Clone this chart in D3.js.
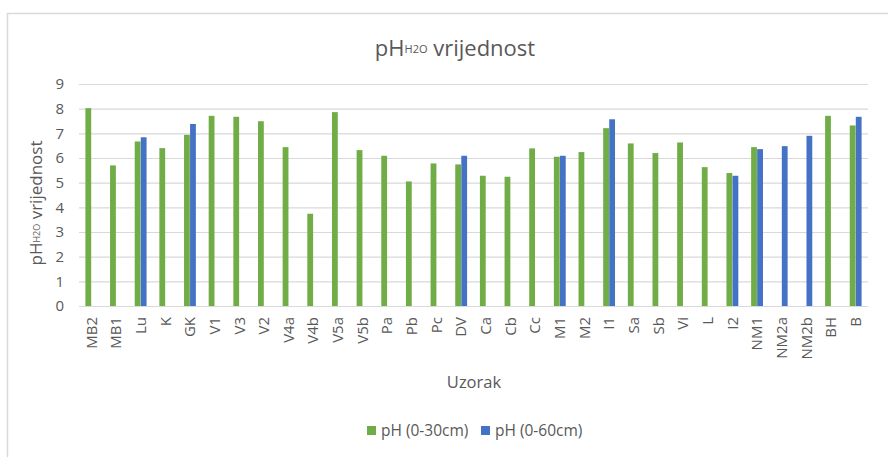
<!DOCTYPE html>
<html>
<head>
<meta charset="utf-8">
<script src="https://cdn.jsdelivr.net/npm/d3@7"></script>
<style>
  body { margin: 0; background: #fff; }
  svg text { font-family: "Segoe UI", "Open Sans", sans-serif; fill: #595959; }
</style>
</head>
<body>
<div id="chart"></div>
<script>
var samples = ["MB2", "MB1", "Lu", "K", "GK", "V1", "V3", "V2", "V4a", "V4b", "V5a", "V5b", "Pa", "Pb", "Pc", "DV",
               "Ca", "Cb", "Cc", "M1", "M2", "I1", "Sa", "Sb", "Vi", "L", "I2", "NM1", "NM2a", "NM2b", "BH", "B"];
var ph30 = [8.02, 5.70, 6.67, 6.40, 6.94, 7.71, 7.67, 7.49, 6.44, 3.74, 7.86, 6.32, 6.09, 5.05, 5.78, 5.74,
            5.28, 5.24, 6.39, 6.05, 6.24, 7.21, 6.59, 6.20, 6.63, 5.63, 5.39, 6.44, null, null, 7.71, 7.32];
var ph60 = [null, null, 6.84, null, 7.38, null, null, null, null, null, null, null, null, null, null, 6.09,
            null, null, null, 6.09, null, 7.57, null, null, null, null, 5.28, 6.36, 6.48, 6.90, null, 7.67];
var seriesNames = ["pH (0-30cm)", "pH (0-60cm)"];
var yTicks = [0, 1, 2, 3, 4, 5, 6, 7, 8, 9];

var width = 888,
    height = 457,
    color = d3.scaleOrdinal(seriesNames, ["#70ad47", "#4472c4"]);

var rows = samples.map((s, i) => ({name: s, values: [ph30[i], ph60[i]]}));

var svg = d3.select("#chart")
            .append("svg")
            .attr("width", width)
            .attr("height", height);

// frame of the chart area (only top and left edge visible)
svg.append("rect")
   .attr("x", 7.5)
   .attr("y", 13.5)
   .attr("width", 1000)
   .attr("height", 1000)
   .attr("fill", "none")
   .attr("stroke", "#d9d9d9")
   .attr("stroke-width", 1.5);

var x0 = d3.scaleBand()
           .domain(samples)
           .range([79, 868])
           .paddingInner(0.5)
           .paddingOuter(0.25);

var x1 = d3.scaleBand()
           .domain([0, 1])
           .range([0, x0.bandwidth()])
           .padding(0.04);

var y = d3.scaleLinear()
          .domain([0, 9])
          .range([306, 84]);

// gridlines
svg.append("g")
   .attr("transform", "translate(79,0)")
   .call(d3.axisLeft(y).tickValues(yTicks).tickSize(-(868 - 79)).tickFormat(""))
   .call(g => g.select(".domain").remove())
   .call(g => g.selectAll("line").attr("stroke", "#d9d9d9").attr("stroke-width", 1.2));

// y tick labels
svg.append("g")
   .attr("transform", "translate(70,0)")
   .call(d3.axisLeft(y).tickValues(yTicks).tickSize(0).tickPadding(6))
   .call(g => g.select(".domain").remove())
   .call(g => g.selectAll("text").style("font-size", "15px").attr("fill", "#595959"));

// bars
var group = svg.selectAll(".sample")
               .data(rows)
               .enter()
               .append("g")
               .attr("class", "sample")
               .attr("transform", (d) => `translate(${x0(d.name)},0)`);

group.selectAll("rect")
     .data((d) => d.values.map((v, k) => ({k: k, v: v})).filter((e) => e.v !== null))
     .enter()
     .append("rect")
     .attr("x", (d) => x1(d.k))
     .attr("y", (d) => y(d.v))
     .attr("width", x1.bandwidth())
     .attr("height", (d) => y(0) - y(d.v))
     .attr("fill", (d) => color(seriesNames[d.k]));

// x axis
svg.append("g")
   .attr("transform", `translate(0,${y(0)})`)
   .call(d3.axisBottom(x0).tickSize(0).tickSizeOuter(0))
   .call(g => g.select(".domain").attr("stroke", "#d9d9d9").attr("stroke-width", 1.2))
   .call(g => g.selectAll("text")
               .style("font-size", "15px")
               .attr("fill", "#595959")
               .attr("text-anchor", "end")
               .attr("y", 0)
               .attr("dy", "0.35em")
               .attr("transform", "translate(0,11) rotate(-90)"));

// title
var title = svg.append("text")
               .attr("x", 455)
               .attr("y", 56)
               .attr("text-anchor", "middle")
               .style("font-size", "22px");
title.append("tspan").text("pH");
title.append("tspan").style("font-size", "11px").attr("dy", -3).text("H2O");
title.append("tspan").attr("dy", 3).text(" vrijednost");

// y axis title
var ytitle = svg.append("text")
                .attr("transform", "translate(42,203) rotate(-90)")
                .attr("text-anchor", "middle")
                .style("font-size", "17px");
ytitle.append("tspan").text("pH");
ytitle.append("tspan").style("font-size", "9px").attr("dy", -2).text("H2O");
ytitle.append("tspan").attr("dy", 2).text(" vrijednost");

// x axis title
svg.append("text")
   .attr("x", 474)
   .attr("y", 388)
   .attr("text-anchor", "middle")
   .style("font-size", "16.5px")
   .text("Uzorak");

// legend
var legendX = [367, 481];
var legend = svg.selectAll(".legend")
                .data(seriesNames)
                .enter()
                .append("g")
                .attr("class", "legend")
                .attr("transform", (d, i) => `translate(${legendX[i]},426)`);

legend.append("rect")
      .attr("width", 9)
      .attr("height", 9)
      .attr("fill", (d) => color(d));

legend.append("text")
      .attr("x", 14)
      .attr("y", 10)
      .style("font-size", "15.5px")
      .text((d) => d);
</script>
</body>
</html>
